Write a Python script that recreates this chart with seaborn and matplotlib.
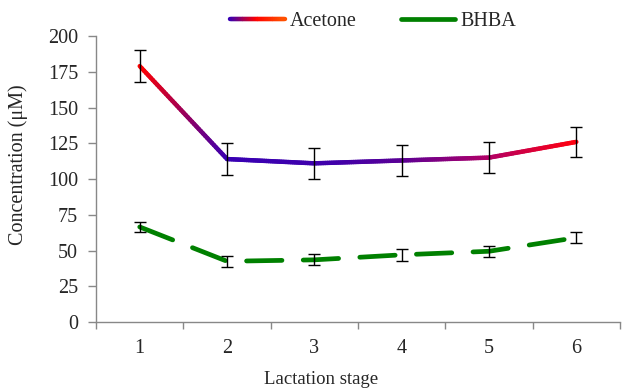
import numpy as np
import pandas as pd
import seaborn as sns
import matplotlib.pyplot as plt
from matplotlib.collections import LineCollection
from matplotlib.colors import LinearSegmentedColormap
from matplotlib.legend_handler import HandlerBase
from matplotlib.lines import Line2D

stages = [1, 2, 3, 4, 5, 6]
acetone = [179, 114, 111, 113, 115, 126]
acetone_err = [11, 11, 11, 11, 11, 10.5]
bhba = [66.5, 42.5, 43.5, 47, 49.5, 59]
bhba_err = [3.5, 3.7, 3.8, 4, 3.8, 4]

sns.set_theme(style="white")
plt.rcParams['font.family'] = ['Liberation Serif', 'DejaVu Serif']

# gradient colours along the acetone line (red -> blue -> red)
grad = LinearSegmentedColormap.from_list(
    "acet", [(0.0, "#ff0000"), (0.2, "#3800b4"), (0.45, "#4000aa"),
             (0.6, "#5a0096"), (0.8, "#b00068"), (1.0, "#ff0010")])

fig, ax = plt.subplots(figsize=(6.32, 3.88), dpi=100)
fig.subplots_adjust(left=0.152, right=0.981, bottom=0.170, top=0.907)

df = pd.DataFrame({"stage": stages, "bhba": bhba})
sns.lineplot(data=df, x="stage", y="bhba", ax=ax, color="#008000",
             linewidth=3.4, dashes=[(7.5, 4.5)], style=[0] * len(stages),
             legend=False, zorder=3)
for ln in ax.get_lines():
    ln.set_dash_capstyle("round")

# acetone line with gradient
xs, ys = [], []
for i in range(len(stages) - 1):
    t = np.linspace(0, 1, 40, endpoint=False)
    xs.extend(stages[i] + t * (stages[i + 1] - stages[i]))
    ys.extend(acetone[i] + t * (acetone[i + 1] - acetone[i]))
xs.append(stages[-1]); ys.append(acetone[-1])
pts = np.array([xs, ys]).T.reshape(-1, 1, 2)
segs = np.concatenate([pts[:-1], pts[1:]], axis=1)
lc = LineCollection(segs, cmap=grad, linewidth=3.2, capstyle="round",
                    joinstyle="round", zorder=3)
lc.set_array((np.array(xs[:-1]) - 1) / 5)
ax.add_collection(lc)

ax.errorbar(stages, acetone, yerr=acetone_err, fmt="none", ecolor="black",
            elinewidth=1, capsize=4, capthick=1, zorder=4)
ax.errorbar(stages, bhba, yerr=bhba_err, fmt="none", ecolor="black",
            elinewidth=1, capsize=4, capthick=1, zorder=4)

fs = 14.5
ax.set_xlim(0.5, 6.5)
ax.set_ylim(0, 200)
ax.set_yticks(range(0, 201, 25))
ax.set_xticks(stages)
ax.set_xticks(np.arange(0.5, 7, 1), minor=True)
ax.tick_params(axis="x", which="major", length=0, pad=12, labelsize=fs)
ax.tick_params(axis="x", which="minor", length=5, color="#888888",
               width=1, direction="out", bottom=True)
ax.tick_params(axis="y", length=6, color="#888888", width=1,
               direction="out", left=True, labelsize=fs, pad=7)
for s in ["top", "right"]:
    ax.spines[s].set_visible(False)
for s in ["left", "bottom"]:
    ax.spines[s].set_color("#888888")
    ax.spines[s].set_linewidth(1)

ax.set_xlabel("Lactation stage", fontsize=13.5)
ax.xaxis.set_label_coords(0.43, -0.17)
ax.set_ylabel("Concentration (μM)", fontsize=fs)
ax.yaxis.set_label_coords(-0.13, 0.552)


class GradHandler(HandlerBase):
    def create_artists(self, legend, orig, xd, yd, w, h, fontsize, trans):
        x = np.linspace(0, w, 30) - xd
        y = np.full_like(x, h / 2 - yd)
        p = np.array([x, y]).T.reshape(-1, 1, 2)
        s = np.concatenate([p[:-1], p[1:]], axis=1)
        c = LineCollection(s, cmap=LinearSegmentedColormap.from_list(
            "lg", ["#3800b4", "#ff0000", "#ff5000"]),
            linewidth=3.2, capstyle="round", transform=trans)
        c.set_array(np.linspace(0, 1, len(s)))
        return [c]


bh_handle = Line2D([], [], color="#008000", linewidth=3.4, linestyle="-",
                   solid_capstyle="round")
ax.legend([lc, bh_handle], ["Acetone", "BHBA"],
          handler_map={LineCollection: GradHandler()},
          loc="center", bbox_to_anchor=(0.529, 1.052), ncol=2, frameon=False,
          fontsize=fs, handlelength=2.7, columnspacing=2.2,
          handletextpad=0.25)

fig.savefig("out.png", dpi=100)
